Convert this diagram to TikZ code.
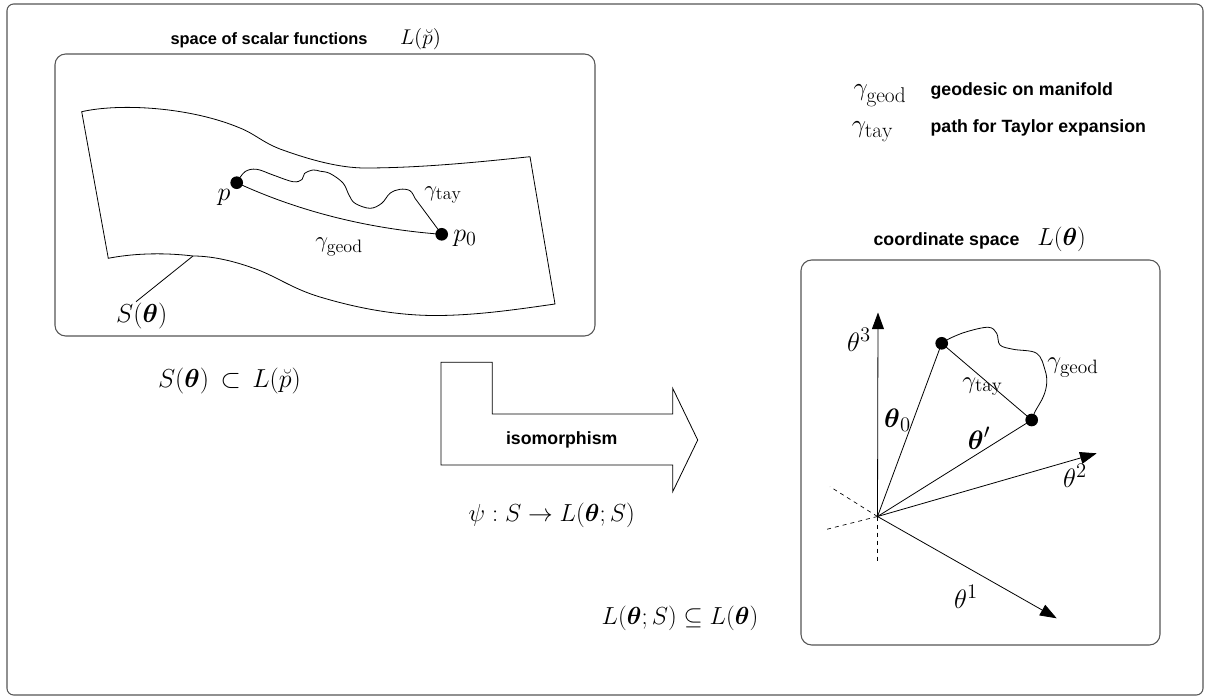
\documentclass[tikz,border=0pt]{standalone}
\usepackage{fix-cm}
\usepackage{amsmath}
\usepackage{amssymb}
\usepackage{fontspec}
\newfontfamily\helv{Liberation Sans}
\usepackage{tikz}
\usetikzlibrary{arrows.meta,positioning,calc}
\definecolor{boxGray}{HTML}{555555}
\DeclareMathSizes{16}{16}{12.5}{9}
\DeclareMathSizes{17}{17}{13.5}{10}
\DeclareMathSizes{18.5}{18.5}{14.5}{11}
\DeclareMathSizes{19}{19}{16}{12}
\DeclareMathSizes{19.5}{19.5}{15}{11}
\DeclareMathSizes{20}{20}{15.5}{11}
\newcommand{\msz}[1]{\fontsize{#1}{#1}\selectfont}
\newcommand{\lbl}[1]{\helv\bfseries\fontsize{#1}{#1}\selectfont}
\newcommand{\bth}{\boldsymbol{\theta}}

\begin{document}
\begin{tikzpicture}[x=0.75pt,y=-0.75pt]
\tikzset{
  box/.style={draw=boxGray, line width=0.8pt, rounded corners=8pt},
  t/.style={font=\lbl{13.3}, inner sep=1pt},
  m/.style={font=\msz{18.5}, inner sep=1pt},
  mbig/.style={font=\msz{19.5}, inner sep=1pt},
  msheet/.style={font=\msz{17}, inner sep=1pt},
  mleg/.style={font=\msz{19}, inner sep=1pt},
  maxis/.style={font=\msz{20}, inner sep=1pt},
  ln/.style={line width=0.6pt},
  ax/.style={-{Triangle[length=12.5pt,width=9pt]}, line width=0.6pt},
  dsh/.style={dashed, line width=0.5pt},
  dot/.style={circle, fill, inner sep=0pt, minimum size=9.5pt}
}
\useasboundingbox (0,0) rectangle (1207,698);

% Frame and boxes
\draw[box, rounded corners=5pt] (7,4) rectangle (1203,695);
\draw[box] (55,54) rectangle (595,336);
\draw[box] (801,260) rectangle (1160,645);

% Titles
\node[t, font=\lbl{12.3}, anchor=base west] (ttlL) at (169,45) {space of scalar functions};
\node[m, font=\msz{16}, base right=22pt of ttlL] (ttlLm) {$L(\breve{p})$};
\node[t, anchor=base west] (ttlR) at (872,246) {coordinate space};
\node[m, base right=11pt of ttlR] (ttlRm) {$L(\bth)$};

% Legend
\node[mleg, anchor=base] (lg1) at (880,96) {$\gamma_{\mathrm{geod}}$};
\node[t, anchor=base west] (lt1) at (929,96) {geodesic on manifold};
\node[mleg, anchor=base] (lg2) at (872.5,133) {$\gamma_{\mathrm{tay}}$};
\node[t, anchor=base west] (lt2) at (929,133) {path for Taylor expansion};

% Manifold sheet
\coordinate (sTL) at (81.7,111.7);
\coordinate (sTR) at (530,156.7);
\coordinate (sBR) at (555,304);
\coordinate (sBL) at (108.3,258.3);
\coordinate (sFoot) at (193,256);
\draw[ln] (sTL) .. controls (120,103) and (190,107) .. (240,128)
  .. controls (255,134) and (262,142) .. (280,149)
  .. controls (310,160) and (340,168) .. (365,168)
  .. controls (420,168) and (480,162) .. (sTR) -- (sBR)
  .. controls (520,309) and (480,315) .. (440,315.5)
  .. controls (400,316) and (360,309) .. (320,297)
  .. controls (290,288) and (275,275) .. (250,267)
  .. controls (230,260) and (210,256) .. (sFoot)
  .. controls (160,252) and (130,254) .. (sBL) -- cycle;
\node[mbig] (sLbl) at (141.7,316) {$S(\bth)$};
\draw[ln] (sFoot) -- (136,301.7);

% Points and paths on the sheet
\node[dot] (p) at (236.7,182.7) {};
\node[dot] (p0) at (441.7,234.3) {};
\draw[ln] (p.center) .. controls (300,212) and (370,229) .. (p0.center);
\draw[ln] plot[smooth, tension=0.6] coordinates {(p.center) (245,171.7) (256.7,169.3) (273,175)
  (293,181.7) (302,179.5) (304.5,173.5) (313,170) (320,171.2) (330,173.5) (343,183) (349,195)
  (355,203.3) (370,208.3) (381.7,203.3) (390,193.3) (400,189.3) (410,190.7) (415,198.3)}
  -- (p0.center);
\node[mbig] (pL) at (224,197) {$p$};
\node[mbig] (p0L) at (465,238) {$p_0$};
\node[msheet] (gG) at (339,246.7) {$\gamma_{\mathrm{geod}}$};
\node[msheet] (gT) at (443,195) {$\gamma_{\mathrm{tay}}$};
\node[mbig] (incl) at (229.5,381) {$S(\bth)\,\subset\,L(\breve{p})$};

% Isomorphism arrow
\draw[ln] (441,362.3) -- (492.3,362.3) -- (492.3,414) -- (672.7,414) -- (672.7,388.3)
  -- (697.7,440) -- (672.7,491.7) -- (672.7,465) -- (441,465) -- cycle;
\node[t] (iso) at (561.7,440) {isomorphism};
\node[m] (psi) at (551.7,515) {$\psi : S \rightarrow L(\bth;S)$};
\node[m] (sub) at (680,618) {$L(\bth;S) \subseteq L(\bth)$};

% Coordinate space
\coordinate (O) at (877.5,516.5);
\coordinate (a3) at (878,312.5);
\coordinate (a2) at (1096.7,453.3);
\coordinate (a1) at (1056.7,618.3);
\coordinate (d1) at (830,486.7);
\coordinate (d2) at (826.7,529.3);
\coordinate (d3) at (877.5,563.3);
\draw[ax] (O) -- (a3);
\draw[ax] (O) -- (a2);
\draw[ax] (O) -- (a1);
\draw[dsh] (O) -- (d1);
\draw[dsh] (O) -- (d2);
\draw[dsh] (O) -- (d3);
\node[dot] (th0) at (941.7,343.3) {};
\node[dot] (thp) at (1031.7,420) {};
\draw[ln] (O) -- (th0.center);
\draw[ln] (O) -- (thp.center);
\draw[ln] (th0.center) -- (thp.center);
\draw[ln] plot[smooth, tension=0.6] coordinates {(th0.center) (950,338.3) (966.7,331.7) (988.3,327.3)
  (996.7,333.3) (1000,345) (1013.3,349.3) (1036.7,353.3) (1045,370) (1046.7,383.3) (1043.3,396.7)
  (1035,411.7) (thp.center)};
\node[maxis] (a3L) at (859,340) {$\theta^3$};
\node[maxis] (a2L) at (1075,476) {$\theta^2$};
\node[maxis] (a1L) at (966,597) {$\theta^1$};
\node[maxis] (th0L) at (897.5,420) {$\bth_0$};
\node[maxis] (thpL) at (979,438) {$\bth'$};
\node[m] (gT2) at (982.5,386.7) {$\gamma_{\mathrm{tay}}$};
\node[m] (gG2) at (1073,367.7) {$\gamma_{\mathrm{geod}}$};
\end{tikzpicture}
\end{document}
